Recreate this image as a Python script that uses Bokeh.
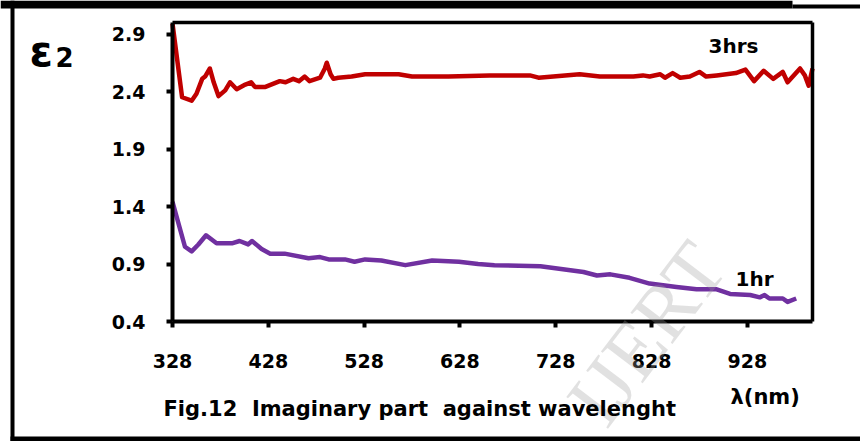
from bokeh.plotting import figure
from bokeh.models import FixedTicker, Label, BoxAnnotation, Range1d, LinearAxis
from bokeh.embed import file_html
from bokeh.resources import INLINE

# wavelength (nm) and imaginary part of the dielectric constant, 3 hours
wl_3h = [328, 338, 348, 353, 359, 362, 367, 371, 376, 383, 388, 395, 404, 410,
         414, 425, 440, 446, 454, 460, 466, 471, 482, 487, 489, 493, 496, 501,
         515, 529, 564, 578, 616, 659, 701, 710, 753, 774, 809, 819, 826, 837,
         842, 850, 858, 868, 878, 885, 896, 916, 926, 935, 945, 955, 965, 970,
         983, 988, 992, 996]
eps_3h = [2.99, 2.35, 2.32, 2.38, 2.51, 2.53, 2.60, 2.48, 2.36, 2.41, 2.48, 2.42,
          2.46, 2.48, 2.44, 2.44, 2.49, 2.48, 2.51, 2.49, 2.53, 2.49, 2.52, 2.60,
          2.65, 2.55, 2.51, 2.52, 2.53, 2.55, 2.55, 2.53, 2.53, 2.54, 2.54, 2.52,
          2.55, 2.53, 2.53, 2.54, 2.53, 2.55, 2.52, 2.56, 2.52, 2.53, 2.57, 2.53,
          2.54, 2.56, 2.59, 2.49, 2.58, 2.51, 2.57, 2.48, 2.60, 2.54, 2.45, 2.60]

# wavelength (nm) and imaginary part of the dielectric constant, 1 hour
wl_1h = [328, 341, 348, 355, 363, 374, 390, 398, 407, 411, 421, 430, 445, 470,
         482, 491, 508, 518, 529, 546, 571, 599, 627, 647, 664, 712, 757, 771,
         785, 805, 826, 854, 875, 896, 910, 931, 941, 946, 951, 965, 970, 979]
eps_1h = [1.44, 1.05, 1.01, 1.07, 1.15, 1.08, 1.08, 1.10, 1.07, 1.10, 1.03, 0.99,
          0.99, 0.95, 0.96, 0.94, 0.94, 0.92, 0.94, 0.93, 0.89, 0.93, 0.92, 0.90,
          0.89, 0.88, 0.83, 0.80, 0.81, 0.78, 0.73, 0.70, 0.68, 0.68, 0.64, 0.63,
          0.61, 0.63, 0.60, 0.60, 0.57, 0.60]

x_ticks = [328, 428, 528, 628, 728, 828, 928]
x_tick_labels = ["328", "428", "528", "628", "728", "828", "928"]
y_ticks = [0.4, 0.9, 1.4, 1.9, 2.4, 2.9]
y_tick_labels = ["0.4", "0.9", "1.4", "1.9", "2.4", "2.9"]

X0, X1 = 328, 996
Y0, Y1 = 0.4, 3.0
W, H = 860, 441
FL, FR, FT, FB = 172, 812, 22, 321  # plot box edges in canvas pixels

FONT = "DejaVu Sans"
NB = "\u00a0"  # keeps the doubled spaces of the caption


def px(x):
    """canvas pixel column -> wavelength"""
    return X0 + (x - FL) * (X1 - X0) / (FR - FL)


def py(y):
    """canvas pixel row (from top) -> eps value"""
    return Y0 + (FB - y) * (Y1 - Y0) / (FB - FT)


# the frame spans the whole canvas; the axes are pinned to the plot box
p = figure(width=W, height=H, output_backend="svg", toolbar_location=None,
           x_range=Range1d(px(0), px(W)), y_range=Range1d(py(H), py(0)),
           min_border=0, min_border_left=0, min_border_right=0,
           min_border_top=0, min_border_bottom=0)
p.background_fill_color = "white"
p.border_fill_color = "white"
p.outline_line_color = None
p.xgrid.visible = False
p.ygrid.visible = False

p.xaxis.fixed_location = Y0
p.xaxis.bounds = (X0, X1)
p.yaxis.fixed_location = X0
p.yaxis.bounds = (Y0, Y1)

for ax, ticks, labels, standoff in ((p.xaxis[0], x_ticks, x_tick_labels, 26),
                                    (p.yaxis[0], y_ticks, y_tick_labels, 21)):
    ax.ticker = FixedTicker(ticks=ticks)
    ax.major_label_overrides = {t: l for t, l in zip(ticks, labels)}
    ax.minor_tick_line_color = None
    ax.major_tick_in = 0
    ax.major_tick_out = 6
    ax.major_tick_line_width = 4
    ax.major_tick_line_color = "black"
    ax.axis_line_width = 4
    ax.axis_line_color = "black"
    ax.major_label_text_font = FONT
    ax.major_label_text_font_style = "bold"
    ax.major_label_text_font_size = "19px"
    ax.major_label_text_color = "black"
    ax.major_label_standoff = standoff

# top and right edges of the plot box
top_ax = LinearAxis(fixed_location=Y1, bounds=(X0, X1), ticker=FixedTicker(ticks=[]),
                    axis_line_width=3.5, axis_line_color="black",
                    major_tick_line_color=None, minor_tick_line_color=None,
                    major_label_text_font_size="0px")
right_ax = LinearAxis(fixed_location=X1, bounds=(Y0, Y1), ticker=FixedTicker(ticks=[]),
                      axis_line_width=3.5, axis_line_color="black",
                      major_tick_line_color=None, minor_tick_line_color=None,
                      major_label_text_font_size="0px")
p.add_layout(top_ax, "above")
p.add_layout(right_ax, "right")

# faint publisher watermark, under the curves
p.add_layout(Label(x=px(646), y=py(333), text="IJERT", text_font="Liberation Serif",
                   text_font_size="80px", text_align="center", text_baseline="middle",
                   angle=0.92, text_color="#9a9a9a", text_alpha=0.3))

p.line(wl_3h, eps_3h, line_color="#C00000", line_width=4.5, line_join="round")
p.line(wl_1h, eps_1h, line_color="#7030A0", line_width=4.5, line_join="round")


def label(text, x, y, size, align="left", baseline="alphabetic"):
    p.add_layout(Label(x=px(x), y=py(y), text=text, text_font=FONT,
                       text_font_style="bold", text_font_size=size,
                       text_align=align, text_baseline=baseline,
                       text_color="black"))


label("ε", 29, 51, "42px")
label("2", 55, 56, "26px")
label("3hrs", 708, 45, "20px")
label("1hr", 735, 278, "20px")
label("λ(nm)", 730, 396, "21px")
label(f"Fig.12 {NB}Imaginary part {NB}against wavelenght", 163, 408, "21px")

# page frame lines
for l, r, t, b in ((0, 792, 0, 8), (792, 860, 4, 8), (10, 14, 0, 441),
                   (10, 860, 436, 441)):
    p.add_layout(BoxAnnotation(left=px(l), right=px(r), top=py(t), bottom=py(b),
                               fill_color="black", fill_alpha=1,
                               line_color=None))

open("out.html", "w").write(file_html(p, INLINE))
